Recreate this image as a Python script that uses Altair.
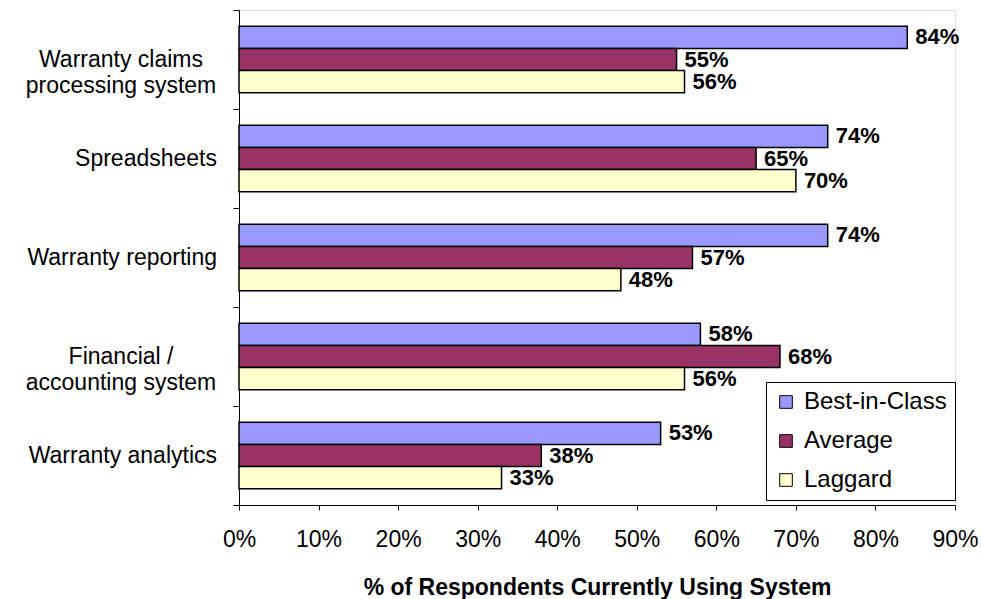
import altair as alt
import pandas as pd

# axis label lines for each category (top to bottom)
category_lines = [
    ["Warranty claims", "processing system"],
    ["Spreadsheets"],
    ["Warranty reporting"],
    ["Financial /", "accounting system"],
    ["Warranty analytics"],
]
categories = ["|".join(lines) for lines in category_lines]
series = ["Best-in-Class", "Average", "Laggard"]
best = [84, 74, 74, 58, 53]
average = [55, 65, 57, 68, 38]
laggard = [56, 70, 48, 56, 33]
colors = ["#9999FF", "#993366", "#FFFFCC"]

rows = []
for s, vals in zip(series, [best, average, laggard]):
    for c, v in zip(categories, vals):
        rows.append({"category": c, "series": s, "value": v, "label": f"{v}%"})
df = pd.DataFrame(rows)
cat_df = pd.DataFrame({"category": categories})

FONT = "Liberation Sans"
FS = 23
MULTI = "indexof(datum.category, '|') >= 0"

y_enc = alt.Y(
    "category:N",
    sort=categories,
    scale=alt.Scale(paddingInner=0, paddingOuter=0),
    axis=alt.Axis(
        title=None,
        tickBand="extent",
        labels=False,
        tickSize=6,
        tickColor="black",
        domainColor="black",
        grid=False,
    ),
)
yoff = alt.YOffset("series:N", sort=series, scale=alt.Scale(paddingInner=0, paddingOuter=0.74))
x_enc = alt.X(
    "value:Q",
    scale=alt.Scale(domain=[0, 90], nice=False),
    axis=alt.Axis(
        title="% of Respondents Currently Using System",
        values=list(range(0, 91, 10)),
        labelExpr="datum.value + '%'",
        labelFont=FONT,
        labelFontSize=FS,
        labelColor="black",
        labelPadding=18,
        labelFlush=False,
        tickSize=5,
        tickColor="black",
        domainColor="black",
        grid=False,
        titleFont=FONT,
        titleFontSize=FS,
        titleFontWeight="bold",
        titleColor="black",
        titlePadding=25,
    ),
)

bars = alt.Chart(df).mark_bar(stroke="black", strokeWidth=1.5).encode(
    y=y_enc,
    yOffset=yoff,
    x=x_enc,
    fill=alt.Fill(
        "series:N",
        sort=series,
        scale=alt.Scale(domain=series, range=colors),
        legend=alt.Legend(
            title=None,
            orient="none",
            legendX=527,
            legendY=372,
            symbolType="square",
            symbolSize=160,
            symbolStrokeColor="black",
            symbolStrokeWidth=1,
            symbolOffset=0,
            labelOffset=6,
            labelFont=FONT,
            labelFontSize=24,
            labelColor="black",
            rowPadding=15,
            strokeColor="black",
            padding=8,
            labelLimit=300,
        ),
    ),
)

text = alt.Chart(df).mark_text(
    align="left", baseline="middle", dx=8, font=FONT, fontSize=22, fontWeight="bold", color="black"
).encode(
    y=alt.Y("category:N", sort=categories),
    yOffset=alt.YOffset("series:N", sort=series),
    x="value:Q",
    text="label:N",
)

cat_text = alt.Chart(cat_df).mark_text(
    align={"expr": f"{MULTI} ? 'center' : 'right'"},
    dx={"expr": f"{MULTI} ? -96 : 0"},
    baseline="middle",
    lineBreak="|",
    lineHeight=26,
    font=FONT,
    fontSize=FS,
    color="black",
).encode(
    y=alt.Y("category:N", sort=categories),
    x=alt.value(-22),
    text="category:N",
)

chart = (
    alt.layer(bars, text, cat_text)
    .properties(
        width=716,
        height=495,
        autosize=alt.AutoSizeParams(type="none"),
        padding={"left": 239, "top": 10, "right": 27, "bottom": 94},
    )
    .configure_view(stroke=None)
    .configure(background="white")
)

chart.save("out.html", embed_options={"renderer": "svg", "actions": False})
